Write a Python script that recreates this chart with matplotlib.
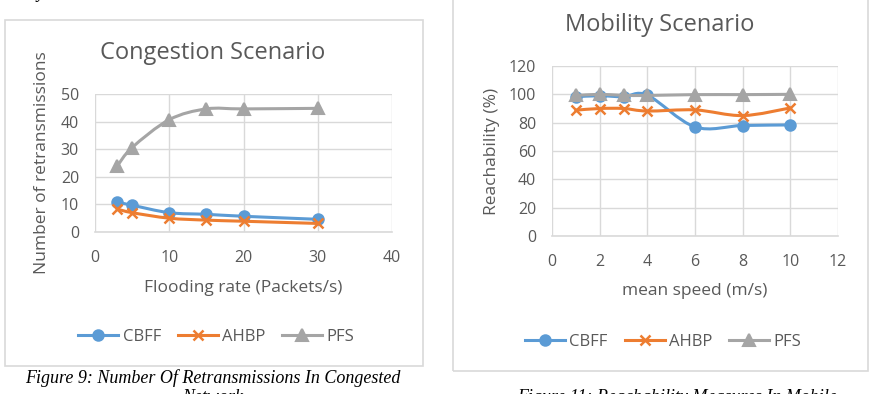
import matplotlib

matplotlib.use("Agg")
import matplotlib.pyplot as plt
from matplotlib.patches import PathPatch, Rectangle
from matplotlib.path import Path

W, H = 872, 394

# congestion scenario
cong_rate = [3, 5, 10, 15, 20, 30]
cong_cbff = [10.8, 9.7, 7.0, 6.4, 5.7, 4.6]
cong_ahbp = [8.3, 7.0, 5.0, 4.3, 3.9, 3.1]
cong_pfs = [23.9, 30.6, 40.7, 44.6, 44.6, 44.8]

# mobility scenario
mob_speed = [1, 2, 3, 4, 6, 8, 10]
mob_cbff = [98.3, 99.0, 98.3, 99.4, 77.0, 78.0, 78.4]
mob_ahbp = [88.8, 90.0, 90.0, 88.2, 89.0, 85.0, 90.4]
mob_pfs = [99.2, 100.0, 99.3, 99.2, 99.8, 99.8, 100.0]

series_names = ["CBFF", "AHBP", "PFS"]

BLUE = "#5B9BD5"
ORANGE = "#ED7D31"
GRAY = "#A5A5A5"
GRID = "#D9D9D9"
TXT = "#595959"
FONT = "Open Sans"


def px_axes(fig, x0, y0, x1, y1):
    return fig.add_axes([x0 / W, 1 - y1 / H, (x1 - x0) / W, (y1 - y0) / H])


def smooth_path(xs, ys):
    # excel style smoothed line: catmull-rom segments as cubic beziers
    pts = list(zip(xs, ys))
    verts = [pts[0]]
    codes = [Path.MOVETO]
    n = len(pts)
    for i in range(n - 1):
        p0 = pts[i - 1] if i > 0 else pts[i]
        p1 = pts[i]
        p2 = pts[i + 1]
        p3 = pts[i + 2] if i + 2 < n else pts[i + 1]
        c1 = (p1[0] + (p2[0] - p0[0]) / 6, p1[1] + (p2[1] - p0[1]) / 6)
        c2 = (p2[0] - (p3[0] - p1[0]) / 6, p2[1] - (p3[1] - p1[1]) / 6)
        verts += [c1, c2, p2]
        codes += [Path.CURVE4] * 3
    return Path(verts, codes)


def draw_series(ax, xs, ys, color, marker, ms, mew=1.5, z=3):
    ax.add_patch(PathPatch(smooth_path(xs, ys), fill=False, edgecolor=color,
                           linewidth=2.2, zorder=z, capstyle="round"))
    ax.plot(xs, ys, linestyle="none", marker=marker, color=color,
            markersize=ms, markeredgewidth=mew, zorder=z + 0.5)
    return ax.plot([], [], color=color, linewidth=2.2, marker=marker,
                   markersize=ms, markeredgewidth=mew)[0]


def style_axes(ax, xlim, xticks, ylim, yticks, xpad):
    ax.set_xlim(*xlim)
    ax.set_ylim(*ylim)
    ax.set_xticks(xticks)
    ax.set_yticks(yticks)
    ax.grid(True, color=GRID, linewidth=1)
    ax.set_axisbelow(True)
    for side in ("top", "right", "left"):
        ax.spines[side].set_visible(False)
    ax.spines["bottom"].set_color(GRID)
    ax.spines["bottom"].set_linewidth(1.2)
    ax.tick_params(length=0, labelsize=11.5, labelcolor=TXT)
    ax.tick_params(axis="x", pad=xpad)
    ax.tick_params(axis="y", pad=11.5)
    for lab in ax.get_xticklabels() + ax.get_yticklabels():
        lab.set_fontfamily(FONT)


def add_legend(fig, handles, cx, cy):
    fig.legend(handles, series_names, loc="center",
               bbox_to_anchor=(cx / W, 1 - cy / H), ncol=3, frameon=False,
               prop={"family": FONT, "size": 12}, labelcolor=TXT,
               handlelength=2.4, columnspacing=1.0, handletextpad=0.25)


fig = plt.figure(figsize=(W / 100, H / 100), dpi=100)
fig.patch.set_facecolor("white")

# chart borders
fig.patches.append(Rectangle((5 / W, 1 - 366 / H), 418 / W, 346 / H,
                             transform=fig.transFigure, fill=False,
                             edgecolor=GRID, linewidth=1.2))
fig.patches.append(Rectangle((453 / W, 1 - 371 / H), 415 / W, 380 / H,
                             transform=fig.transFigure, fill=False,
                             edgecolor=GRID, linewidth=1.2))

# left: congestion
ax1 = px_axes(fig, 95, 94, 392, 232)
style_axes(ax1, (0, 40), range(0, 41, 10), (0, 50), range(0, 51, 10), 13)
h1 = [
    draw_series(ax1, cong_rate, cong_cbff, BLUE, "o", 7.5, z=3),
    draw_series(ax1, cong_rate, cong_ahbp, ORANGE, "x", 7, 1.8, z=4),
    draw_series(ax1, cong_rate, cong_pfs, GRAY, "^", 8, z=5),
]
ax1.set_xlabel("Flooding rate (Packets/s)", fontsize=12.5, color=TXT,
               fontfamily=FONT, labelpad=10)
ax1.set_ylabel("Number of retransmissions", fontsize=12.5, color=TXT,
               fontfamily=FONT, labelpad=8)
fig.text(213 / W, 1 - 53 / H, "Congestion Scenario", fontsize=17, color=TXT,
         fontfamily=FONT, ha="center", va="center")
add_legend(fig, h1, 216, 337)

# right: mobility
ax2 = px_axes(fig, 552, 66, 838, 236)
style_axes(ax2, (0, 12), range(0, 13, 2), (0, 120), range(0, 121, 20), 13)
h2 = [
    draw_series(ax2, mob_speed, mob_cbff, BLUE, "o", 7.5, z=3),
    draw_series(ax2, mob_speed, mob_ahbp, ORANGE, "x", 7, 1.8, z=4),
    draw_series(ax2, mob_speed, mob_pfs, GRAY, "^", 8, z=5),
]
ax2.set_xlabel("mean speed (m/s)", fontsize=12.5, color=TXT,
               fontfamily=FONT, labelpad=9)
ax2.set_ylabel("Reachability (%)", fontsize=12.5, color=TXT,
               fontfamily=FONT, labelpad=6)
fig.text(660 / W, 1 - 25 / H, "Mobility Scenario", fontsize=17, color=TXT,
         fontfamily=FONT, ha="center", va="center")
add_legend(fig, h2, 663, 342)

# captions from the surrounding page
cap = {"family": "Liberation Serif", "style": "italic", "size": 13, "color": "black"}
fig.text(6 / W, 1 - (-6) / H, "delays.", ha="left", va="center", **cap)
fig.text(213 / W, 1 - 378 / H, "Figure 9: Number Of Retransmissions In Congested",
         ha="center", va="center", **cap)
fig.text(213 / W, 1 - 398 / H, "Network", ha="center", va="center", **cap)
fig.text(677 / W, 1 - 398 / H, "Figure 11: Reachability Measures In Mobile",
         ha="center", va="center", **cap)

fig.savefig("out.png", dpi=100)
